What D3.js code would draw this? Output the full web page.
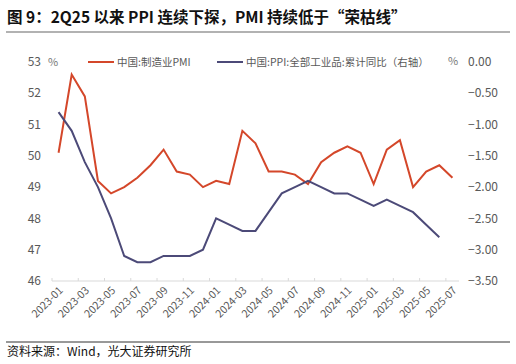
<!DOCTYPE html>
<html lang="zh">
<head>
<meta charset="UTF-8">
<title>PMI与PPI</title>
<script src="https://d3js.org/d3.v7.min.js"></script>
<style>
  body { margin: 0; background: #fff; }
  text { font-family: "Noto Sans CJK SC", "Noto Sans", sans-serif; }
</style>
</head>
<body>
<svg width="516" height="364"></svg>
<script>
const months = [
  "2023-01","2023-02","2023-03","2023-04","2023-05","2023-06","2023-07","2023-08","2023-09","2023-10","2023-11","2023-12",
  "2024-01","2024-02","2024-03","2024-04","2024-05","2024-06","2024-07","2024-08","2024-09","2024-10","2024-11","2024-12",
  "2025-01","2025-02","2025-03","2025-04","2025-05","2025-06","2025-07"
];
const pmi = [
  50.1, 52.6, 51.9, 49.2, 48.8, 49.0, 49.3, 49.7, 50.2, 49.5, 49.4, 49.0,
  49.2, 49.1, 50.8, 50.4, 49.5, 49.5, 49.4, 49.1, 49.8, 50.1, 50.3, 50.1,
  49.1, 50.2, 50.5, 49.0, 49.5, 49.7, 49.3
];
const ppi = [
  -0.8, -1.1, -1.6, -2.0, -2.5, -3.1, -3.2, -3.2, -3.1, -3.1, -3.1, -3.0,
  -2.5, -2.6, -2.7, -2.7, -2.4, -2.1, -2.0, -1.9, -2.0, -2.1, -2.1, -2.2,
  -2.3, -2.2, -2.3, -2.4, -2.6, -2.8, null
];
const leftTicks = [46, 47, 48, 49, 50, 51, 52, 53];
const rightTicks = [-3.5, -3.0, -2.5, -2.0, -1.5, -1.0, -0.5, 0.0];
const seriesNames = ["中国:制造业PMI", "中国:PPI:全部工业品:累计同比（右轴）"];
const colors = ["#d4472a", "#4c4a78"];

const svg = d3.select("svg");
const plotL = 52, plotR = 459, plotT = 62, plotB = 281;

// title
svg.append("text").attr("x", 7).attr("y", 23)
  .attr("font-size", 15.5).attr("font-weight", "bold").attr("fill", "#111")
  .text("图 9：2Q25 以来 PPI 连续下探，PMI 持续低于“荣枯线”");
svg.append("line").attr("x1", 6).attr("x2", 510).attr("y1", 32).attr("y2", 32)
  .attr("stroke", "#666").attr("stroke-width", 1.2);

const x = d3.scaleBand().domain(months).range([plotL, plotR]);
const yL = d3.scaleLinear().domain([46, 53]).range([plotB, plotT]);
const yR = d3.scaleLinear().domain([-3.5, 0]).range([plotB, plotT]);

// x axis
svg.append("line").attr("x1", plotL).attr("x2", plotR).attr("y1", plotB).attr("y2", plotB)
  .attr("stroke", "#d9d9d9");
const labelMonths = months.filter((d, i) => i % 2 === 0);
svg.selectAll(".xtick").data(labelMonths).enter().append("line")
  .attr("x1", d => x(d)).attr("x2", d => x(d))
  .attr("y1", plotB).attr("y2", plotB - 3)
  .attr("stroke", "#d9d9d9");
svg.selectAll(".xlab").data(labelMonths).enter().append("text")
  .attr("transform", d => `translate(${x(d) + x.bandwidth() / 2 + 3},${plotB + 8}) rotate(-45)`)
  .attr("text-anchor", "end").attr("dominant-baseline", "middle")
  .attr("font-size", 10.5).attr("fill", "#595959")
  .text(d => d);

// y axes labels
svg.selectAll(".ylab").data(leftTicks).enter().append("text")
  .attr("x", 41).attr("y", d => yL(d)).attr("dy", "0.35em")
  .attr("text-anchor", "end").attr("font-size", 12).attr("fill", "#595959")
  .text(d => d);
svg.selectAll(".rlab").data(rightTicks).enter().append("text")
  .attr("x", 468).attr("y", d => yR(d)).attr("dy", "0.35em")
  .attr("text-anchor", "start").attr("font-size", 12).attr("fill", "#595959")
  .text(d => d3.format(".2f")(d));
svg.append("text").attr("x", 48).attr("y", 62).attr("dy", "0.35em")
  .attr("font-size", 11).attr("fill", "#777").text("%");
svg.append("text").attr("x", 448).attr("y", 61).attr("dy", "0.35em")
  .attr("font-size", 11).attr("fill", "#777").text("%");

// legend
const legendX = [88, 217];
seriesNames.forEach((name, i) => {
  svg.append("line").attr("x1", legendX[i]).attr("x2", legendX[i] + 26)
    .attr("y1", 62).attr("y2", 62).attr("stroke", colors[i]).attr("stroke-width", 2);
  svg.append("text").attr("x", legendX[i] + 29).attr("y", 62).attr("dy", "0.35em")
    .attr("font-size", 10.5).attr("fill", "#595959").text(name);
});

// lines
const cx = (d, i) => x(months[i]) + x.bandwidth() / 2;
const linePmi = d3.line().x(cx).y(d => yL(d));
const linePpi = d3.line().defined(d => d !== null).x(cx).y(d => yR(d));
svg.append("path").datum(pmi).attr("d", linePmi)
  .attr("fill", "none").attr("stroke", colors[0]).attr("stroke-width", 2);
svg.append("path").datum(ppi).attr("d", linePpi)
  .attr("fill", "none").attr("stroke", colors[1]).attr("stroke-width", 2);

// footer
svg.append("line").attr("x1", 6).attr("x2", 510).attr("y1", 342).attr("y2", 342)
  .attr("stroke", "#333").attr("stroke-width", 1);
svg.append("text").attr("x", 7).attr("y", 352).attr("dy", "0.35em")
  .attr("font-size", 12).attr("fill", "#111")
  .text("资料来源：Wind，光大证券研究所");
</script>
</body>
</html>
